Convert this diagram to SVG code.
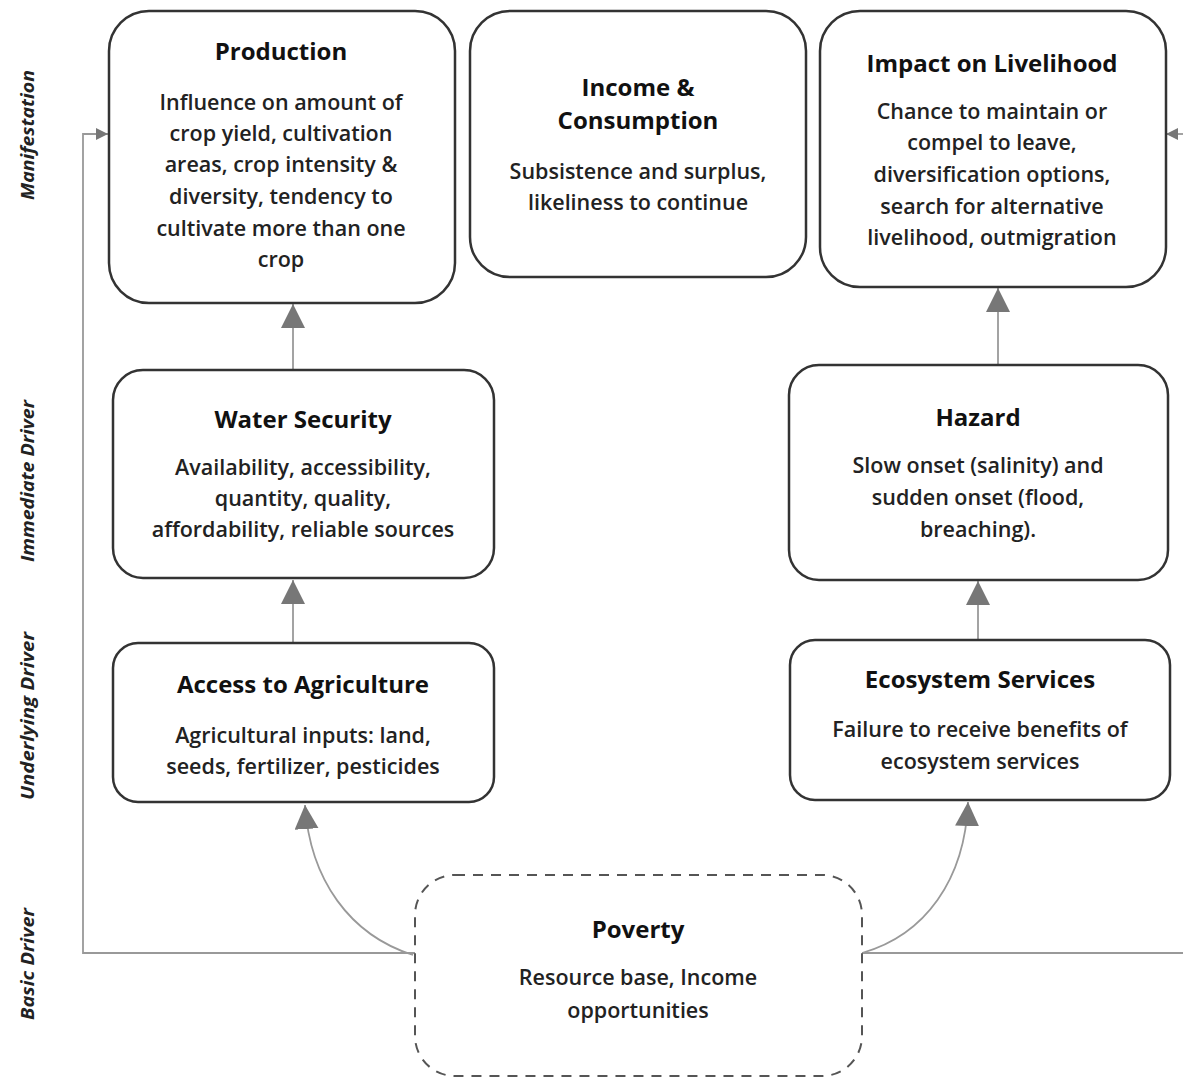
<svg xmlns="http://www.w3.org/2000/svg" width="1183" height="1080" viewBox="0 0 1183 1080">
<style>
.box{fill:#fff;stroke:#333;stroke-width:2.5}
.dash{fill:#fff;stroke:#555;stroke-width:2;stroke-dasharray:10 8}
.t{font-family:"Open Sans",Lato,sans-serif;font-weight:bold;font-size:24px;fill:#111;text-anchor:middle}
.b{font-family:"Open Sans",Lato,sans-serif;font-weight:600;font-size:21.5px;fill:#222;text-anchor:middle}
.side{font-family:"Open Sans",Lato,sans-serif;font-weight:bold;font-style:italic;font-size:17px;fill:#222;text-anchor:middle}
.c{fill:none;stroke:#999;stroke-width:1.8}
</style>
<defs>
<marker id="ah" viewBox="0 0 10 10" refX="10" refY="5" markerWidth="12" markerHeight="12" markerUnits="userSpaceOnUse" orient="auto">
<path d="M0,0 L10,5 L0,10 z" fill="#777"/>
</marker>
<marker id="big" viewBox="0 0 10 10" refX="10" refY="5" markerWidth="24" markerHeight="24" markerUnits="userSpaceOnUse" orient="auto">
<path d="M0,0 L10,5 L0,10 z" fill="#777"/>
</marker>
</defs>
<rect width="1183" height="1080" fill="#fff"/>
<g id="side-labels">
<text class="side" transform="translate(34,135) rotate(-90)" textLength="130" lengthAdjust="spacingAndGlyphs">Manifestation</text>
<text class="side" transform="translate(34,481) rotate(-90)" textLength="162" lengthAdjust="spacingAndGlyphs">Immediate Driver</text>
<text class="side" transform="translate(34,716) rotate(-90)" textLength="168" lengthAdjust="spacingAndGlyphs">Underlying Driver</text>
<text class="side" transform="translate(34,964) rotate(-90)" textLength="112" lengthAdjust="spacingAndGlyphs">Basic Driver</text>
</g>
<g id="connectors">
<polyline class="c" points="415,953 83,953 83,134 108,134" marker-end="url(#ah)"/>
<polyline class="c" points="862,953 1183,953"/>
<line class="c" x1="1183" y1="134" x2="1166" y2="134" marker-end="url(#ah)"/>
<path class="c" d="M413,955 C350,935 310,880 305,805" marker-end="url(#big)"/>
<path class="c" d="M862,953 C925,935 965,880 968,802" marker-end="url(#big)"/>
<line class="c" x1="293" y1="643" x2="293" y2="580" marker-end="url(#big)"/>
<line class="c" x1="293" y1="370" x2="293" y2="304" marker-end="url(#big)"/>
<line class="c" x1="978" y1="640" x2="978" y2="581" marker-end="url(#big)"/>
<line class="c" x1="998" y1="365" x2="998" y2="288" marker-end="url(#big)"/>
</g>
<g id="production">
<rect class="box" x="109" y="11" width="346" height="292" rx="40"/>
<text class="t" x="281" y="60">Production</text>
<text class="b" x="281" y="110">Influence on amount of</text>
<text class="b" x="281" y="141">crop yield, cultivation</text>
<text class="b" x="281" y="172">areas, crop intensity &amp;</text>
<text class="b" x="281" y="204">diversity, tendency to</text>
<text class="b" x="281" y="236">cultivate more than one</text>
<text class="b" x="281" y="267">crop</text>
</g>
<g id="income">
<rect class="box" x="470" y="11" width="336" height="266" rx="40"/>
<text class="t" x="638" y="96">Income &amp;</text>
<text class="t" x="638" y="129">Consumption</text>
<text class="b" x="638" y="179">Subsistence and surplus,</text>
<text class="b" x="638" y="210">likeliness to continue</text>
</g>
<g id="impact">
<rect class="box" x="820" y="11" width="346" height="276" rx="40"/>
<text class="t" x="992" y="72">Impact on Livelihood</text>
<text class="b" x="992" y="119">Chance to maintain or</text>
<text class="b" x="992" y="150">compel to leave,</text>
<text class="b" x="992" y="182">diversification options,</text>
<text class="b" x="992" y="214">search for alternative</text>
<text class="b" x="992" y="245">livelihood, outmigration</text>
</g>
<g id="water">
<rect class="box" x="113" y="370" width="381" height="208" rx="30"/>
<text class="t" x="303" y="428">Water Security</text>
<text class="b" x="303" y="475">Availability, accessibility,</text>
<text class="b" x="303" y="506">quantity, quality,</text>
<text class="b" x="303" y="537">affordability, reliable sources</text>
</g>
<g id="hazard">
<rect class="box" x="789" y="365" width="379" height="215" rx="30"/>
<text class="t" x="978" y="426">Hazard</text>
<text class="b" x="978" y="473">Slow onset (salinity) and</text>
<text class="b" x="978" y="505">sudden onset (flood,</text>
<text class="b" x="978" y="537">breaching).</text>
</g>
<g id="access">
<rect class="box" x="113" y="643" width="381" height="159" rx="25"/>
<text class="t" x="303" y="693">Access to Agriculture</text>
<text class="b" x="303" y="743">Agricultural inputs: land,</text>
<text class="b" x="303" y="774">seeds, fertilizer, pesticides</text>
</g>
<g id="ecosystem">
<rect class="box" x="790" y="640" width="380" height="160" rx="25"/>
<text class="t" x="980" y="688">Ecosystem Services</text>
<text class="b" x="980" y="737">Failure to receive benefits of</text>
<text class="b" x="980" y="769">ecosystem services</text>
</g>
<g id="poverty">
<rect class="dash" x="415" y="875" width="447" height="201" rx="40"/>
<text class="t" x="638" y="938">Poverty</text>
<text class="b" x="638" y="985">Resource base, Income</text>
<text class="b" x="638" y="1018">opportunities</text>
</g>
</svg>
